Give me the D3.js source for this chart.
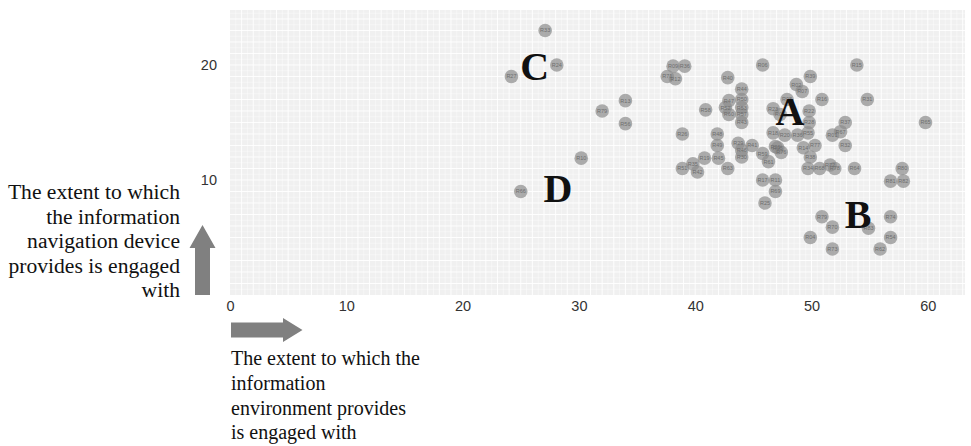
<!DOCTYPE html>
<html>
<head>
<meta charset="utf-8">
<script src="https://cdn.jsdelivr.net/npm/d3@7"></script>
<style>
  body { margin: 0; background: #fff; }
  svg { display: block; }
</style>
</head>
<body>
<div id="chart"></div>
<script>
// Données : scores des répondants (x = environnement, y = dispositif)
const labels = ["R33","R24","R27","R13","R79","R56","R10","R66","R09","R36","R71","R12","R40","R44","R47","R50","R52","R53","R60","R57","R43","R58","R26","R48","R49","R19","R45","R51","R35","R42","R63","R29","R46","R30","R41","R59","R61","R17","R11","R69","R25","R06","R39","R02","R07","R08","R16","R31","R15","R65","R23","R03","R22","R28","R37","R18","R20","R36","R55","R01","R67","R32","R05","R21","R76","R14","R77","R38","R34","R68","R72","R78","R64","R80","R81","R82","R79","R70","R04","R73","R83","R74","R54","R62"];
const xValues = [27.1,28.1,24.2,34.0,32.0,34.0,30.2,25.0,38.1,39.1,37.6,38.3,42.8,44.0,42.9,44.0,42.6,44.0,42.9,44.0,44.0,40.9,38.9,41.9,41.9,40.8,42.0,38.9,39.8,40.2,42.8,43.7,44.0,44.0,44.9,45.8,46.3,45.8,46.9,46.9,46.0,45.8,49.9,48.7,49.2,47.9,50.9,54.8,53.9,59.8,46.7,47.3,49.8,49.8,52.9,46.7,47.7,48.8,49.7,51.8,52.5,52.9,47.1,46.9,47.4,49.3,50.3,49.9,49.7,50.7,51.6,52.0,53.7,57.8,56.8,57.9,50.9,51.8,49.9,51.8,54.9,56.8,56.8,55.9];
const yValues = [23.0,20.0,19.0,16.9,16.0,14.9,11.9,9.0,19.9,19.9,19.0,18.8,18.9,17.9,16.9,17.0,16.3,16.3,15.7,15.7,15.0,16.1,14.0,14.0,13.0,11.9,11.9,11.0,11.4,10.7,11.0,13.2,12.6,12.0,13.0,12.3,11.6,10.0,10.0,9.0,8.0,20.0,19.0,18.3,17.7,17.0,17.0,17.0,20.0,15.0,16.2,15.7,16.0,15.0,15.0,14.1,13.9,13.9,14.1,13.9,14.2,13.0,12.8,12.9,12.4,12.8,13.0,12.0,11.0,11.0,11.3,11.0,11.0,11.0,9.9,9.9,6.8,5.9,5.0,4.0,5.8,6.8,5.0,4.0];

// Groupes annotés (lettre, x, y de la ligne de base)
const groupLetters = ["A", "B", "C", "D"];
const groupX = [48.15, 54.0, 26.2, 28.2];
const groupY = [14.8, 5.8, 18.7, 8.1];

const xTicks = [0, 10, 20, 30, 40, 50, 60];
const yTicks = [10, 20];

const yAxisText = ["The extent to which", "the information", "navigation device", "provides is engaged", "with"];
const xAxisText = ["The extent to which the", "information", "environment provides", "is engaged with"];

const width = 971, height = 446;
const pLeft = 230, pRight = 965, pTop = 10, pBottom = 295;

const svg = d3.select("#chart")
    .append("svg")
    .attr("width", width)
    .attr("height", height);

const x = d3.scaleLinear().domain([0, 63.2]).range([pLeft, pRight]);
const y = d3.scaleLinear().domain([0, 24.78]).range([pBottom, pTop]);

// fond du panneau
svg.append("rect")
    .attr("x", pLeft).attr("y", pTop)
    .attr("width", pRight - pLeft).attr("height", pBottom - pTop)
    .attr("fill", "#f0f0f0");

// grille blanche (majeure à chaque unité, mineure à la demie)
const gx = d3.range(0.5, 63.2, 0.5);
const gy = d3.range(0.5, 24.78, 0.5);
svg.append("g").selectAll("line")
    .data(gx)
    .enter()
    .append("line")
    .attr("x1", d => x(d)).attr("x2", d => x(d))
    .attr("y1", pTop).attr("y2", pBottom)
    .attr("stroke", "#fff")
    .attr("stroke-width", d => d % 1 === 0 ? 0.9 : 0.4);
svg.append("g").selectAll("line")
    .data(gy)
    .enter()
    .append("line")
    .attr("y1", d => y(d)).attr("y2", d => y(d))
    .attr("x1", pLeft).attr("x2", pRight)
    .attr("stroke", "#fff")
    .attr("stroke-width", d => d % 1 === 0 ? 0.9 : 0.4);

// axes (textes seulement)
const xAxis = svg.append("g")
    .attr("transform", `translate(0,${pBottom})`)
    .call(d3.axisBottom(x).tickValues(xTicks).tickSize(0).tickPadding(6));
const yAxis = svg.append("g")
    .attr("transform", `translate(${pLeft},0)`)
    .call(d3.axisLeft(y).tickValues(yTicks).tickSize(0).tickPadding(13));
[xAxis, yAxis].forEach(a => {
    a.select(".domain").remove();
    a.selectAll("text")
        .attr("fill", "#333")
        .style("font-family", "Liberation Sans, Arial, sans-serif")
        .style("font-size", "14.5px");
});

// points
const points = labels.map((l, i) => ({ label: l, x: xValues[i], y: yValues[i] }));
const pts = svg.append("g");
pts.selectAll("circle")
    .data(points)
    .enter()
    .append("circle")
    .attr("cx", d => x(d.x))
    .attr("cy", d => y(d.y))
    .attr("r", 6.8)
    .attr("fill", "#8c8c8c")
    .attr("opacity", 0.7);
pts.selectAll("text")
    .data(points)
    .enter()
    .append("text")
    .attr("x", d => x(d.x))
    .attr("y", d => y(d.y) + 2)
    .attr("text-anchor", "middle")
    .attr("fill", "#6e6e6e")
    .style("font-family", "Liberation Sans, Arial, sans-serif")
    .style("font-size", "5.5px")
    .text(d => d.label);

// lettres des groupes
svg.append("g").selectAll("text")
    .data(groupLetters)
    .enter()
    .append("text")
    .attr("x", (d, i) => x(groupX[i]))
    .attr("y", (d, i) => y(groupY[i]))
    .attr("text-anchor", "middle")
    .attr("fill", "#111")
    .style("font-family", "Liberation Serif, Times New Roman, serif")
    .style("font-weight", "bold")
    .style("font-size", "40px")
    .text(d => d);

// flèches
svg.append("path")
    .attr("d", "M195,295 L210,295 L210,248 L215.5,248 L202.5,225 L189.5,248 L195,248 Z")
    .attr("fill", "#808080");
svg.append("path")
    .attr("d", "M231,322.5 L283,322.5 L283,318 L302.5,330 L283,342 L283,337.5 L231,337.5 Z")
    .attr("fill", "#808080");

// titres des axes
svg.append("text")
    .attr("text-anchor", "end")
    .attr("fill", "#111")
    .style("font-family", "Liberation Serif, Times New Roman, serif")
    .style("font-size", "21.6px")
    .selectAll("tspan")
    .data(yAxisText)
    .enter()
    .append("tspan")
    .attr("x", 180)
    .attr("y", (d, i) => 199 + i * 24.5)
    .text(d => d);

svg.append("text")
    .attr("fill", "#111")
    .style("font-family", "Liberation Serif, Times New Roman, serif")
    .style("font-size", "20px")
    .selectAll("tspan")
    .data(xAxisText)
    .enter()
    .append("tspan")
    .attr("x", 231)
    .attr("y", (d, i) => 365 + i * 24.8)
    .text(d => d);
</script>
</body>
</html>
